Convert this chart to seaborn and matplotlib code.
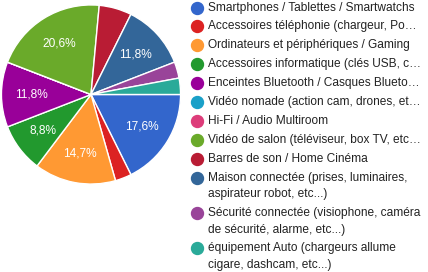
import matplotlib
matplotlib.use("Agg")
import matplotlib.pyplot as plt
import seaborn as sns
from matplotlib.lines import Line2D

# Données (réponses par catégorie)
categories = [
    "Smartphones / Tablettes / Smartwatchs",
    "Accessoires téléphonie (chargeur, Po…",
    "Ordinateurs et périphériques / Gaming",
    "Accessoires informatique (clés USB, c…",
    "Enceintes Bluetooth / Casques Blueto…",
    "Vidéo nomade (action cam, drones, et…",
    "Hi-Fi / Audio Multiroom",
    "Vidéo de salon (téléviseur, box TV, etc…",
    "Barres de son / Home Cinéma",
    "Maison connectée (prises, luminaires,\naspirateur robot, etc...)",
    "Sécurité connectée (visiophone, caméra\nde sécurité, alarme, etc...)",
    "équipement Auto (chargeurs allume\ncigare, dashcam, etc...)",
]
counts = [6, 1, 5, 3, 4, 0, 0, 7, 2, 4, 1, 1]
colors = ["#3366cc", "#dc2222", "#ff9933", "#22992e", "#990099", "#1aa0c8",
          "#dd3d7a", "#6aaa2a", "#b91c34", "#336699", "#994499", "#2aaa99"]

sns.set_style("white")
plt.rcParams['font.family'] = ['Liberation Sans', 'DejaVu Sans']

fig = plt.figure(figsize=(4.28, 2.72), dpi=100)
W, H = 428, 272
ax = fig.add_axes([1 / W, (H - 184.5) / H, 180 / W, 180 / H])

total = sum(counts)


def pct_label(p):
    if p < 8:
        return ""
    return f"{p:.1f}%".replace(".", ",")


wedges, texts, autotexts = ax.pie(
    counts, colors=colors, startangle=0, counterclock=False,
    autopct=pct_label, pctdistance=0.67, radius=1,
    wedgeprops=dict(edgecolor="white", linewidth=1),
    textprops=dict(color="white", fontsize=8.6))
ax.set_xlim(-1.005, 1.005)
ax.set_ylim(-1.005, 1.005)
ax.set_aspect("equal")
ax.axis("off")

# Légende à droite
x_mark, x_text = 197, 208
y = 7.5
for label, col in zip(categories, colors):
    lines = label.split("\n")
    fig.add_artist(Line2D([x_mark / W], [1 - y / H], marker="o", markersize=8.6,
                          color=col, linestyle="none", transform=fig.transFigure))
    for i, line in enumerate(lines):
        fig.text(x_text / W, 1 - (y + i * 16.5) / H, line, fontsize=8.6,
                 color="#222222", va="center", ha="left")
    y += 18.9 + 16.5 * (len(lines) - 1)

fig.savefig("out.png", dpi=100, facecolor="white")
